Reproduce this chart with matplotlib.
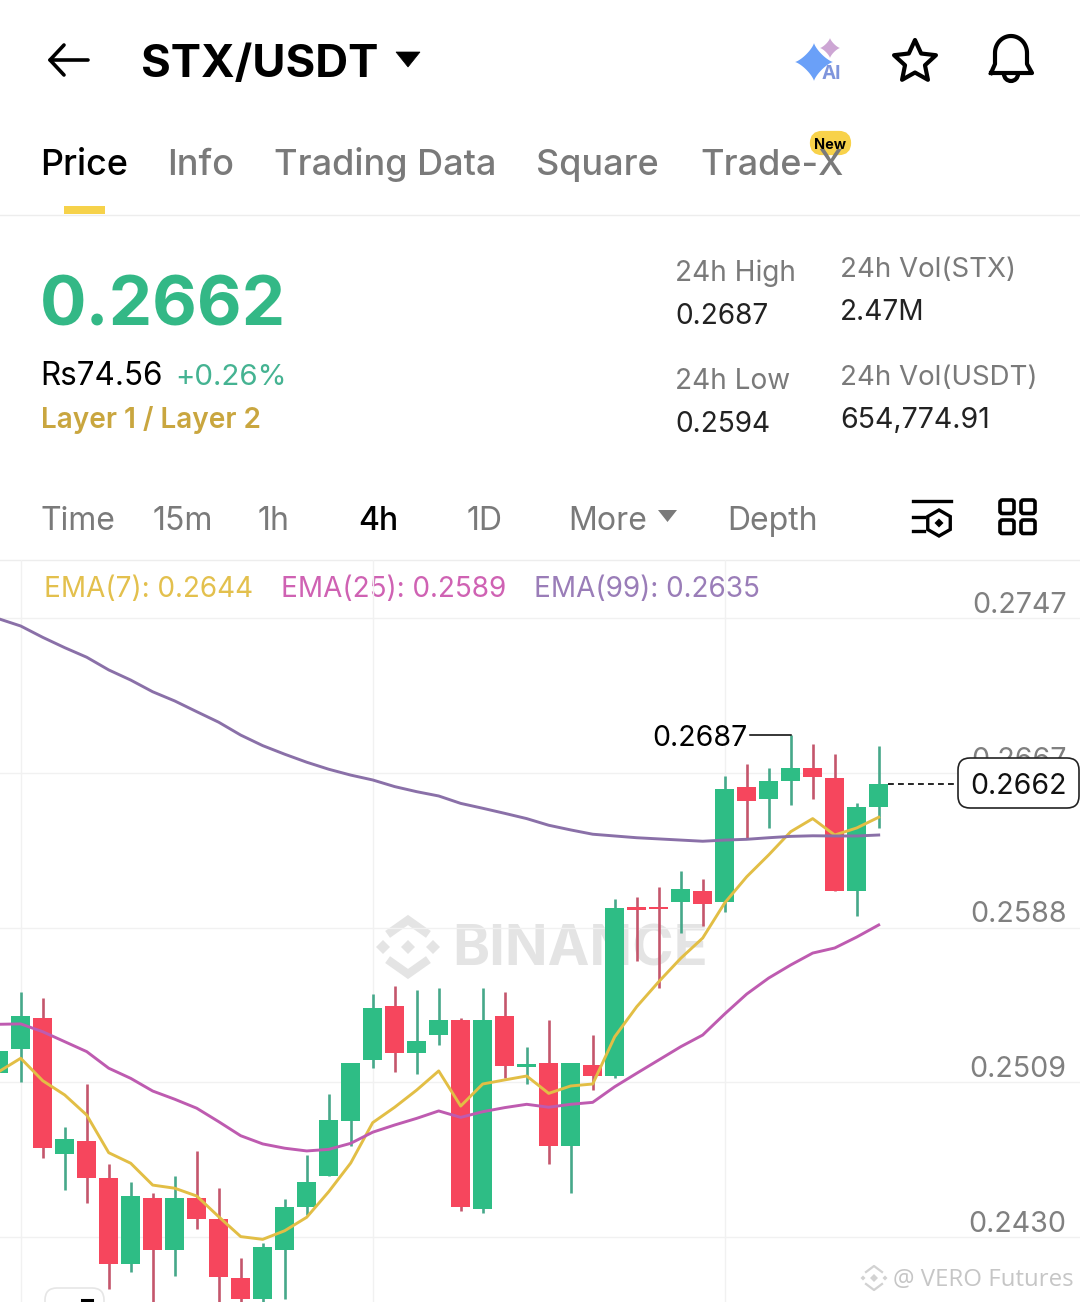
import numpy as np
import matplotlib
matplotlib.use("Agg")
import matplotlib.pyplot as plt
from matplotlib.patches import FancyBboxPatch, Polygon, Arc, Rectangle
from matplotlib.transforms import blended_transform_factory

FONT = "Inter"
plt.rcParams["font.family"] = [FONT, "DejaVu Sans"]

# ---------- data ----------
open_ = [.25142,.25265,.25422,.24724,.24792,.24602,.24163,.24501,.24233,.24501,.24391,.24091,.23982,.24233,.24454,.24613,.24894,.25206,.25484,.25244,.25335,.25412,.24445,.25432,.25173,.25193,.24765,.25181,.25125,.25993,.25993,.26017,.26073,.26015,.26604,.26545,.26637,.26703,.26654,.26075,.26505]
close = [.25255,.25432,.24755,.24802,.24602,.24163,.24512,.24233,.24501,.24394,.24094,.23982,.24250,.24452,.24582,.24901,.25193,.25474,.25244,.25303,.25412,.24454,.25412,.25175,.25187,.24765,.25193,.25125,.25984,.25976,.25981,.26083,.26006,.26594,.26536,.26635,.26703,.26656,.26075,.26504,.26620]
high = [.25284,.25554,.25525,.24862,.25084,.24673,.24582,.24524,.24613,.24742,.24551,.24191,.24271,.24493,.24720,.25033,.25193,.25545,.25585,.25564,.25574,.25422,.25574,.25554,.25274,.25412,.25193,.25334,.26034,.26044,.26094,.26174,.26135,.26662,.26724,.26703,.26870,.26826,.26775,.26524,.26816]
low = [.25115,.25094,.24703,.24542,.24473,.24034,.24122,.23900,.24102,.24343,.23900,.23962,.23952,.23984,.24413,.24613,.24766,.25165,.25144,.25134,.25284,.24435,.24425,.25113,.25084,.24673,.24524,.25053,.25115,.25716,.25574,.25856,.25894,.25965,.26338,.26394,.26514,.26545,.26075,.25945,.26394]
ema7 = [.25147,.25216,.25101,.25028,.24925,.24732,.24678,.24566,.24550,.24510,.24404,.24302,.24288,.24332,.24401,.24532,.24679,.24886,.24965,.25053,.25151,.24971,.25084,.25105,.25125,.25036,.25074,.25084,.25326,.25480,.25608,.25728,.25832,.26012,.26146,.26258,.26377,.26444,.26360,.26396,.26451]
ema25 = [.25390,.25392,.25352,.25301,.25250,.25165,.25113,.25048,.25006,.24960,.24891,.24819,.24777,.24755,.24741,.24749,.24780,.24837,.24874,.24908,.24946,.24913,.24942,.24963,.24980,.24965,.24980,.24990,.25070,.25139,.25207,.25275,.25335,.25443,.25545,.25627,.25694,.25755,.25781,.25837,.25899]
ema99 = [.27468,.27431,.27373,.27320,.27271,.27206,.27154,.27094,.27047,.26992,.26938,.26872,.26818,.26774,.26733,.26697,.26667,.26642,.26608,.26582,.26560,.26522,.26497,.26471,.26444,.26410,.26386,.26364,.26355,.26346,.26340,.26334,.26328,.26334,.26338,.26346,.26353,.26356,.26355,.26355,.26360]
price_ticks = [.2430,.25093,.25886,.26679,.27472]
price_tick_labels = ["0.2430","0.2509","0.2588","0.2667","0.2747"]
time_grid = [1,17,33]
last_price = .2662
high_price = .2687
tabs = ["Price","Info","Trading Data","Square","Trade-X"]
intervals = ["Time","15m","1h","4h","1D","More","Depth"]

GREEN, RED = "#2EBD85", "#F6465D"
GREEN_W, RED_W = "#46A88A", "#C4566C"
GRID = "#F1F1F1"
GREY = "#7A7A7A"

fig = plt.figure(figsize=(10.8, 13.02), dpi=100, facecolor="white")

def pixel_axes(z):
    a = fig.add_axes([0, 0, 1, 1], zorder=z)
    a.set_xlim(0, 1080); a.set_ylim(1302, 0); a.axis("off")
    a.patch.set_visible(False)
    return a

ui = pixel_axes(0)
top = pixel_axes(2)

def T(x, y, s, size, color="black", weight="normal", ha="left", a=None, **k):
    return (a or ui).text(x, y, s, fontsize=size * 0.72, color=color, fontweight=weight,
                          ha=ha, va="baseline", **k)

# ---------- header ----------
ui.plot([50, 88], [60, 60], color="black", lw=2.6, solid_capstyle="round")
ui.plot([64, 50, 64], [45, 60, 75], color="black", lw=2.6, solid_capstyle="round", solid_joinstyle="round")
T(141, 77, "STX/USDT", 45.5, weight="bold")
ui.add_patch(Polygon([(396, 52), (420, 52), (408, 67)], closed=True, fc="black", ec="black", lw=.5))

def sparkle(a, cx, cy, r, color):
    th = np.linspace(0, 2 * np.pi, 200)
    xs = cx + r * np.sign(np.cos(th)) * np.abs(np.cos(th)) ** 2.6
    ys = cy + r * np.sign(np.sin(th)) * np.abs(np.sin(th)) ** 2.6
    a.fill(xs, ys, color=color, lw=0)
sparkle(ui, 814, 62, 19, "#6AA0F8")
sparkle(ui, 830, 48, 10, "#CDA6D4")
T(821.5, 79, "AI", 19, color="#7F95DC", weight="bold")

ang = np.deg2rad(np.arange(10) * 36 - 90)
rad = np.where(np.arange(10) % 2 == 0, 22, 10.5)
ui.add_patch(Polygon(np.c_[915 + rad * np.cos(ang), 62 + rad * np.sin(ang)], closed=True, fc="none",
                     ec="black", lw=3, joinstyle="round"))
th = np.linspace(np.pi, 2 * np.pi, 40)
bx = [991, 995] + list(1011 + 16 * np.cos(th)) + [1027, 1032, 991]
by = [73, 64] + list(53 + 17 * np.sin(th)) + [64, 73, 73]
ui.plot(bx, by, color="black", lw=3, solid_joinstyle="round")
ui.add_patch(Arc((1011, 74), 14, 14, theta1=0, theta2=180, color="black", lw=3))

# tabs
tab_x = [40, 167, 274, 536, 700]
for i, (x, s) in enumerate(zip(tab_x, tabs)):
    T(x, 175, s, 36, color="black" if i == 0 else GREY, weight="medium")
ui.add_patch(Rectangle((64, 206), 41, 8, fc="#F6D24A", ec="none"))
ui.plot([0, 1080], [214.5, 214.5], color="#EDEDED", lw=1)
ui.add_patch(FancyBboxPatch((813, 134), 35, 18, boxstyle="round,pad=0,rounding_size=9", fc="#F8D24A", ec="#F8D24A", lw=4.5))
T(830.5, 149, "New", 14.5, weight="bold", ha="center")

# price block
T(40, 325, "0.2662", 69, color="#33B886", weight="bold")
T(40, 385, "Rs74.56", 31.5)
T(175, 385, "+0.26%", 29.5, color="#45B392")
T(41, 428, "Layer 1 / Layer 2", 28, color="#C9A63F", weight="semibold")

T(675, 281, "24h High", 28, color=GREY)
T(675, 324, "0.2687", 28, color="#222222")
T(675, 389, "24h Low", 28, color=GREY)
T(675, 432, "0.2594", 28, color="#222222")
T(840, 277, "24h Vol(STX)", 27.7, color=GREY)
T(840, 320, "2.47M", 28, color="#222222")
T(840, 385, "24h Vol(USDT)", 27.7, color=GREY)
T(840, 428, "654,774.91", 28.5, color="#222222")

# interval row
int_x = [40, 153, 258, 358, 467, 568, 727]
for x, s in zip(int_x, intervals):
    T(x, 530, s, 32, color="black" if s == "4h" else GREY, weight="medium" if s == "4h" else "normal")
ui.add_patch(Polygon([(658, 510), (677, 510), (667.5, 522)], closed=True, fc=GREY, ec="none"))

ui.plot([913, 951], [501, 501], color="black", lw=2.4)
ui.plot([913, 924], [517, 517], color="black", lw=2.4)
ui.plot([913, 924], [531, 531], color="black", lw=2.4)
ah = np.deg2rad(np.arange(6) * 60 - 90)
ui.add_patch(Polygon(np.c_[939 + 13 * np.cos(ah), 523 + 13 * np.sin(ah)], closed=True, fc="none", ec="black", lw=2.4))
ui.add_patch(Polygon([(939, 518.5), (943.5, 523), (939, 527.5), (934.5, 523)], closed=True, fc="black", ec="none"))
for x0 in (1000, 1021):
    for y0 in (500, 520):
        ui.add_patch(FancyBboxPatch((x0, y0), 14, 13.5, boxstyle="round,pad=0,rounding_size=2.5", fc="none", ec="black", lw=2.6))
ui.plot([0, 1080], [559.5, 559.5], color="#EDEDED", lw=1)

# EMA legend
T(44, 597, "EMA(7): 0.2644", 27.9, color="#E3C04D")
T(281, 597, "EMA(25): 0.2589", 27.9, color="#CF62B3")
T(534, 597, "EMA(99): 0.2635", 27.9, color="#9A7DB8")

# watermark
wm = "#E4E4E4"
cx, cy = 408, 947
for dx, dy in ((0, 0), (-25, 0), (25, 0)):
    ui.add_patch(Polygon([(cx + dx, cy + dy - 7), (cx + dx + 7, cy + dy), (cx + dx, cy + dy + 7), (cx + dx - 7, cy + dy)], closed=True, fc=wm, ec="none"))
for sgn in (-1, 1):
    ui.plot([cx - 17, cx, cx + 17], [cy + sgn * 15, cy + sgn * 27, cy + sgn * 15], color=wm, lw=6, solid_joinstyle="miter")
T(452, 966, "BINANCE", 56, color=wm, weight="bold")

# ---------- chart ----------
PX_PER = 5.1244e-5
ylim_bottom = .2430 - 65 * PX_PER
ylim_top = .2430 + 677 * PX_PER
ax = fig.add_axes([0, 0, 1, 742 / 1302], zorder=1)
ax.patch.set_visible(False)
ax.set_xlim(1.3 / 22, (1080 + 1.3) / 22)
ax.set_ylim(ylim_bottom, ylim_top)
for s in ax.spines.values():
    s.set_visible(False)
ax.set_xticks(time_grid); ax.set_yticks(price_ticks)
ax.set_xticklabels([]); ax.set_yticklabels([])
ax.tick_params(length=0)
ax.grid(True, color=GRID, lw=1)
ax.set_axisbelow(True)

idx = np.arange(len(open_))
o, c, h, l = map(np.array, (open_, close, high, low))
up = c >= o
ax.vlines(idx[up], l[up], h[up], color=GREEN_W, lw=1.9, zorder=2)
ax.vlines(idx[~up], l[~up], h[~up], color=RED_W, lw=1.9, zorder=2)
ax.bar(idx[up], (c - o)[up], bottom=o[up], width=.86, color=GREEN, zorder=3)
ax.bar(idx[~up], (c - o)[~up], bottom=o[~up], width=.86, color=RED, zorder=3)
ax.plot(idx, ema7, color="#E2BE45", lw=2.1, zorder=4)
ax.plot(idx, ema25, color="#BE5BB0", lw=2.1, zorder=4)
ax.plot(idx, ema99, color="#8A70A8", lw=2.1, zorder=4)

tr = blended_transform_factory(ax.transAxes, ax.transData)
for v, s in zip(price_ticks, price_tick_labels):
    ax.annotate(s, (1 - 13.5 / 1080, v), xycoords=tr, xytext=(0, 3.7), textcoords="offset points",
                ha="right", va="baseline", fontsize=28.6 * .72, color="#808080", zorder=5)

ax.annotate(f"{high_price:.4f}", (36, high_price), xytext=(748, 746), xycoords="data",
            textcoords=ui.transData, ha="right", va="baseline", fontsize=28.5 * .72, color="black")
ax.plot([34.15, 36], [high_price, high_price], color="black", lw=1.1, zorder=5)
ax.plot([40.4, 43.6], [last_price, last_price], color="black", lw=1.2, ls=(0, (3.5, 2.5)), zorder=5)
top.add_patch(FancyBboxPatch((958, 758), 121, 50, boxstyle="round,pad=0,rounding_size=12", fc="white", ec="#222222", lw=1.2))
T(1018.5, 794, f"{last_price:.4f}", 28.5, ha="center", a=top, color="#111111")

top.add_patch(FancyBboxPatch((45, 1288), 59, 40, boxstyle="round,pad=0,rounding_size=12", fc="white", ec="#E6E6E6", lw=1.2))
top.plot([82, 92], [1299.5, 1299.5], color="black", lw=2.2)

def wm_logo(x, y, col):
    top.add_patch(Polygon([(x, y - 4), (x + 4, y), (x, y + 4), (x - 4, y)], closed=True, fc=col, ec="none"))
    for sgn in (-1, 1):
        top.plot([x - 8, x, x + 8], [y + sgn * 6, y + sgn * 12, y + sgn * 6], color=col, lw=1.6)
    for sgn in (-1, 1):
        top.add_patch(Polygon([(x + sgn * 11, y - 2.5), (x + sgn * 13.5, y), (x + sgn * 11, y + 2.5), (x + sgn * 8.5, y)], closed=True, fc=col, ec="none"))
wm_logo(874, 1278, "#D2D2D2")
T(893, 1286, "@ VERO Futures", 24, color="#C6C6C6", a=top, family=["Open Sans", "DejaVu Sans"])

fig.savefig("out.png", dpi=100, facecolor="white")
